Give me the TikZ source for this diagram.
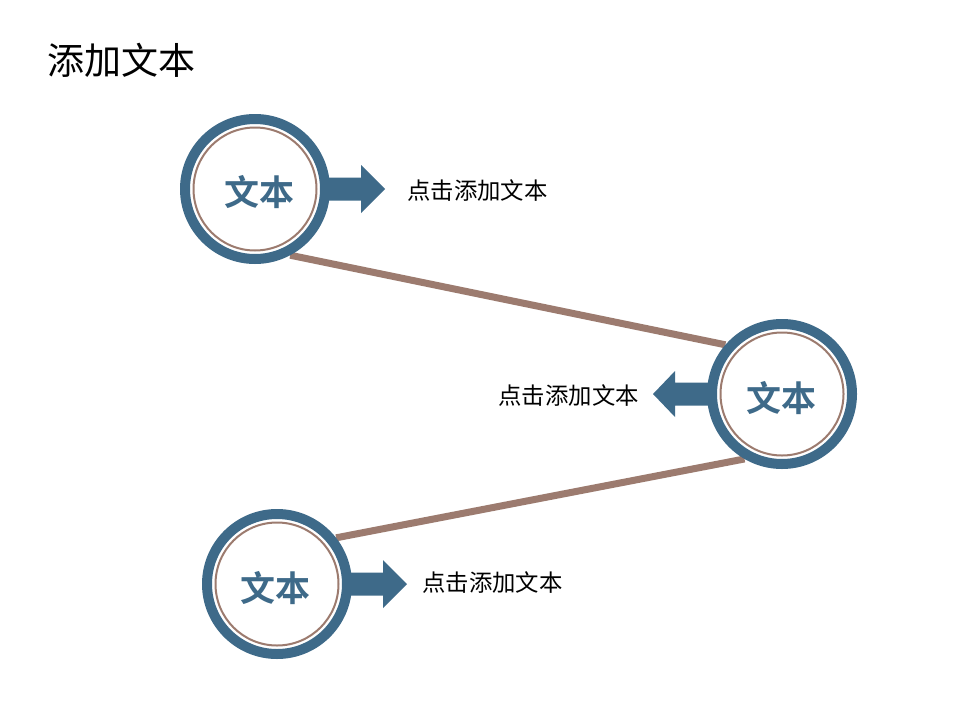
\documentclass[tikz,border=0pt]{standalone}
\usepackage{fontspec}
\newfontfamily\cjk{Noto Sans CJK SC}[BoldFont={Noto Sans CJK SC Bold}]
\definecolor{ringblue}{HTML}{3E6A89}
\definecolor{linkbrown}{HTML}{9C7B6F}
\pgfdeclarelayer{bg}
\pgfsetlayers{bg,main}
\tikzset{
  ring/.style={circle, draw=ringblue, line width=10pt, fill=white, minimum size=140pt, inner sep=0pt},
  innerring/.style={draw=linkbrown, line width=2pt},
  circtext/.style={text=ringblue, font=\cjk\bfseries\fontsize{35}{40}\selectfont, inner sep=0pt},
  desc/.style={font=\cjk\fontsize{23.4}{28}\selectfont, inner sep=0pt},
  link/.style={draw=linkbrown, line width=7pt},
  arrowfill/.style={fill=ringblue}
}
\begin{document}
\begin{tikzpicture}[x=1pt,y=-1pt]
\useasboundingbox (0,0) rectangle (960,720);
\node[font=\cjk\fontsize{37}{42}\selectfont, inner sep=0pt, anchor=west] (title) at (47,60) {添加文本};

\node[ring] (c1) at (255,189) {};
\node[ring] (c2) at (782,394) {};
\node[ring] (c3) at (277,584) {};

\foreach \c in {c1,c2,c3}{
  \draw[innerring] (\c.center) circle (61.5);
}

\node[circtext] (t1) at (259,192) {文本};
\node[circtext] (t2) at (781,398) {文本};
\node[circtext] (t3) at (275,588) {文本};

\begin{pgfonlayer}{bg}
\fill[white] (0,0) rectangle (960,720);
\draw[link] (c1.-62) -- (c2.139);
\draw[link] (c2.240) -- (c3.38);
\end{pgfonlayer}

\fill[arrowfill, shift={(c1.center)}] (66,-11.5) -- (106,-11.5) -- (106,-24) -- (130,0) -- (106,24) -- (106,11.5) -- (66,11.5) -- cycle;
\fill[arrowfill, shift={(c2.center)}] (-66,-11.5) -- (-107,-11.5) -- (-107,-23) -- (-129,0) -- (-107,23) -- (-107,11.5) -- (-66,11.5) -- cycle;
\fill[arrowfill, shift={(c3.center)}] (66,-11.5) -- (106,-11.5) -- (106,-24) -- (130,0) -- (106,24) -- (106,11.5) -- (66,11.5) -- cycle;

\node[desc, anchor=west] (d1) at (407,191) {点击添加文本};
\node[desc, anchor=east] (d2) at (639,396) {点击添加文本};
\node[desc, anchor=west] (d3) at (422,583) {点击添加文本};
\end{tikzpicture}
\end{document}
